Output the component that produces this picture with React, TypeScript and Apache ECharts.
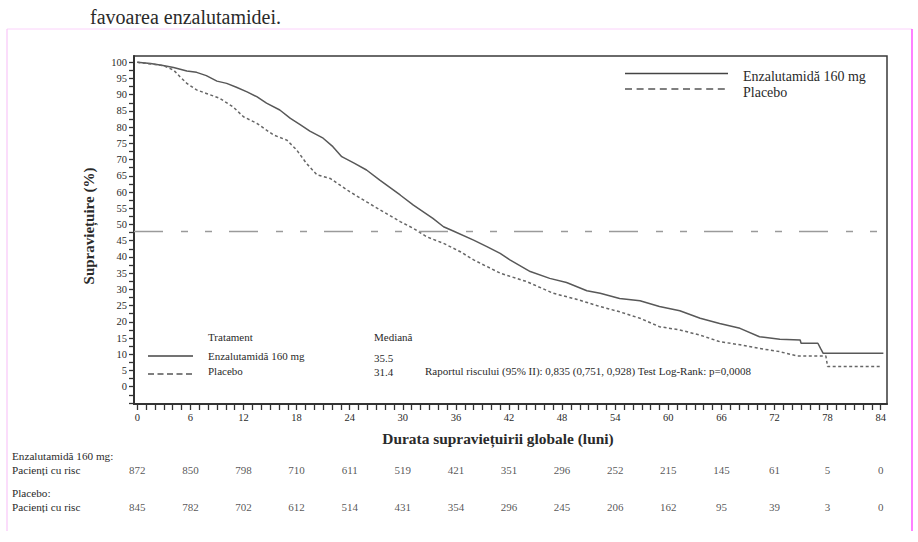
import React, { useEffect, useRef } from "react";
import * as echarts from "echarts";

// ---- data ----
const enzMonths = [0, 1.5, 2.9, 4.1, 5.6, 6.7, 7.8, 9.0, 10.1, 11.2, 12.4, 13.5, 14.6, 16.1, 17.3, 18.4, 19.5, 21.0, 22.1, 23.1, 24.5, 25.9, 27.4, 29.7, 31.2, 33.4, 34.6, 35.7, 38.0, 39.5, 41.0, 42.1, 44.4, 46.6, 48.5, 50.8, 52.3, 54.5, 56.8, 59.0, 61.3, 63.6, 65.8, 68.1, 70.3, 72.6, 74.9, 75.0, 76.9, 77.2, 77.5, 84.3];
const enzSurvival = [100, 99.6, 99.0, 98.4, 97.3, 96.9, 95.9, 94.2, 93.5, 92.3, 90.9, 89.4, 87.4, 85.3, 82.7, 80.8, 78.8, 76.6, 74.0, 70.9, 68.9, 66.8, 63.7, 59.1, 56.0, 51.9, 49.3, 48.0, 45.2, 43.2, 41.1, 39.1, 35.5, 33.4, 32.1, 29.6, 28.8, 27.2, 26.5, 24.7, 23.4, 21.1, 19.5, 18.0, 15.4, 14.6, 14.4, 13.4, 13.4, 11.8, 10.3, 10.3];

const placeboMonths = [0, 2.9, 4.1, 4.8, 5.6, 6.7, 7.8, 9.3, 10.8, 12.0, 13.5, 14.6, 15.4, 16.9, 18.0, 19.1, 20.3, 21.8, 24.0, 25.9, 27.8, 29.7, 31.2, 32.7, 34.6, 36.5, 38.0, 41.0, 44.0, 47.0, 49.7, 52.3, 54.5, 56.8, 59.0, 61.3, 63.6, 65.8, 68.1, 70.3, 72.6, 74.5, 77.8, 78.0, 83.9];
const placeboSurvival = [100, 99.0, 97.6, 95.6, 93.5, 91.5, 90.4, 88.9, 86.3, 83.2, 81.2, 79.1, 77.6, 76.0, 73.0, 68.9, 65.3, 64.2, 60.1, 57.0, 53.9, 50.9, 48.8, 46.2, 44.2, 41.6, 39.1, 35.0, 32.4, 28.8, 26.9, 24.7, 23.1, 21.1, 18.5, 17.5, 15.9, 13.9, 12.9, 11.8, 10.8, 9.5, 9.5, 6.2, 6.2];

const medianLineValue = 48;

const riskMonths = [0, 6, 12, 18, 24, 30, 36, 42, 48, 54, 60, 66, 72, 78, 84];
const enzAtRisk = [872, 850, 798, 710, 611, 519, 421, 351, 296, 252, 215, 145, 61, 5, 0];
const placeboAtRisk = [845, 782, 702, 612, 514, 431, 354, 296, 245, 206, 162, 95, 39, 3, 0];

const xLabelValues = [0, 6, 12, 18, 24, 30, 36, 42, 48, 54, 60, 66, 72, 78, 84];
const xTickValues = [0, 1, 2, 3, 4, 5, 6, 7, 8, 9, 10, 11, 12, 13, 14, 15, 16, 17, 18, 19, 20, 21, 22, 23, 24, 25, 26, 27, 28, 29, 30, 31, 32, 33, 34, 35, 36, 37, 38, 39, 40, 41, 42, 43, 44, 45, 46, 47, 48, 49, 50, 51, 52, 53, 54, 55, 56, 57, 58, 59, 60, 61, 62, 63, 64, 65, 66, 67, 68, 69, 70, 71, 72, 73, 74, 75, 76, 77, 78, 79, 80, 81, 82, 83, 84];
const yLabelValues = [0, 5, 10, 15, 20, 25, 30, 35, 40, 45, 50, 55, 60, 65, 70, 75, 80, 85, 90, 95, 100];
const yTickValues = [-5, -2.5, 0, 2.5, 5, 7.5, 10, 12.5, 15, 17.5, 20, 22.5, 25, 27.5, 30, 32.5, 35, 37.5, 40, 42.5, 45, 47.5, 50, 52.5, 55, 57.5, 60, 62.5, 65, 67.5, 70, 72.5, 75, 77.5, 80, 82.5, 85, 87.5, 90, 92.5, 95, 97.5, 100];

const FONT = "'Liberation Serif', 'DejaVu Serif', serif";
const INK = "#2a2a2a";

function zip(a: number[], b: number[]) {
  return a.map((v, i) => [v, b[i]]);
}

export default function App() {
  const ref = useRef<HTMLDivElement>(null);

  useEffect(() => {
    if (!ref.current) return;
    const chart = echarts.init(ref.current, undefined, { renderer: "svg" });

    const txt = (x: number, y: number, text: string, size: number, extra: any = {}) => ({
      type: "text",
      x,
      y,
      silent: true,
      style: {
        text,
        fill: INK,
        fontFamily: FONT,
        fontSize: size,
        textAlign: "left",
        textVerticalAlign: "middle",
        ...extra,
      },
    });
    const ln = (x1: number, y1: number, x2: number, y2: number, stroke: string, lineWidth: number, lineDash?: number[]) => ({
      type: "line",
      silent: true,
      shape: { x1, y1, x2, y2 },
      style: { stroke, lineWidth, lineDash },
    });

    const xMin = -0.373;
    const xMax = 84.71;

    chart.setOption({
      animation: false,
      backgroundColor: "#ffffff",
      textStyle: { fontFamily: FONT, color: INK },
      grid: [
        { left: 134, right: 31, top: 56, bottom: 138, show: true, borderColor: "#3a3a3a", borderWidth: 1.5, backgroundColor: "transparent" },
        { left: 134, right: 31, top: 470, height: 37, show: false },
      ],
      xAxis: [
        {
          type: "value",
          gridIndex: 0,
          min: xMin,
          max: xMax,
          splitLine: { show: false },
          axisLine: { show: true, onZero: false, lineStyle: { color: "#333", width: 2 } },
          axisTick: { show: true, inside: false, length: 6, customValues: xTickValues, lineStyle: { color: "#333", width: 1.3 } },
          axisLabel: { show: true, customValues: xLabelValues, margin: 8, fontSize: 10.5, color: INK, fontFamily: FONT },
        },
        {
          type: "value",
          gridIndex: 1,
          min: xMin,
          max: xMax,
          show: false,
        },
      ],
      yAxis: [
        {
          type: "value",
          gridIndex: 0,
          min: -5.33,
          max: 101.94,
          splitLine: { show: false },
          axisLine: { show: true, onZero: false, lineStyle: { color: "#333", width: 2 } },
          axisTick: { show: true, inside: false, length: 5, customValues: yTickValues, lineStyle: { color: "#333", width: 1.3 } },
          axisLabel: { show: true, customValues: yLabelValues, margin: 7, fontSize: 10.5, color: INK, fontFamily: FONT },
        },
        {
          type: "value",
          gridIndex: 1,
          min: 0,
          max: 1,
          show: false,
        },
      ],
      series: [
        {
          name: "Enzalutamidă 160 mg",
          type: "line",
          xAxisIndex: 0,
          yAxisIndex: 0,
          data: zip(enzMonths, enzSurvival),
          symbol: "none",
          lineStyle: { color: "#585858", width: 1.5 },
          z: 3,
          markLine: {
            silent: true,
            symbol: "none",
            label: { show: false },
            lineStyle: { color: "#9a9a9a", width: 1.3, type: [29, 18, 7, 17, 7, 17] },
            data: [{ yAxis: medianLineValue }],
          },
        },
        {
          name: "Placebo",
          type: "line",
          xAxisIndex: 0,
          yAxisIndex: 0,
          data: zip(placeboMonths, placeboSurvival),
          symbol: "none",
          lineStyle: { color: "#666", width: 1.5, type: [3, 2.5] },
          z: 3,
        },
        {
          type: "scatter",
          xAxisIndex: 1,
          yAxisIndex: 1,
          symbolSize: 1,
          itemStyle: { color: "transparent" },
          data: riskMonths.map((m, i) => [m, 1, enzAtRisk[i]]),
          label: {
            show: true,
            position: "inside",
            formatter: (p: any) => String(p.value[2]),
            color: INK,
            fontSize: 11,
            fontFamily: FONT,
          },
        },
        {
          type: "scatter",
          xAxisIndex: 1,
          yAxisIndex: 1,
          symbolSize: 1,
          itemStyle: { color: "transparent" },
          data: riskMonths.map((m, i) => [m, 0, placeboAtRisk[i]]),
          label: {
            show: true,
            position: "inside",
            formatter: (p: any) => String(p.value[2]),
            color: INK,
            fontSize: 11,
            fontFamily: FONT,
          },
        },
      ],
      graphic: [
        // page frame
        ln(7, 29, 912, 29, "#fbd2fb", 1),
        ln(7, 29, 7, 531, "#f8c6f8", 1.2),
        ln(912, 29, 912, 531, "#ff2cff", 1.2),
        // page text
        txt(90, 17, "favoarea enzalutamidei.", 20),
        // axis titles
        {
          type: "text",
          x: 89,
          y: 226,
          rotation: Math.PI / 2,
          silent: true,
          style: {
            text: "Supraviețuire (%)",
            fill: INK,
            fontFamily: FONT,
            fontSize: 15,
            fontWeight: "bold",
            textAlign: "center",
            textVerticalAlign: "middle",
          },
        },
        txt(498, 438, "Durata supraviețuirii globale (luni)", 15.4, { fontWeight: "bold", textAlign: "center" }),
        // top-right legend
        ln(625, 73.5, 728, 73.5, "#444", 1.6),
        ln(625, 89, 728, 89, "#555", 1.6, [7, 4.6]),
        txt(743, 76, "Enzalutamidă 160 mg", 14),
        txt(743, 92, "Placebo", 14),
        // inner median table
        txt(208, 337, "Tratament", 11),
        txt(374, 337, "Mediană", 11),
        ln(148, 356, 193, 356, "#444", 1.6),
        ln(148, 374, 193, 374, "#555", 1.6, [6, 3.5]),
        txt(208, 356, "Enzalutamidă 160 mg", 11),
        txt(208, 371, "Placebo", 11),
        txt(374, 358, "35.5", 11),
        txt(374, 372, "31.4", 11),
        txt(425, 371, "Raportul riscului (95% II): 0,835 (0,751, 0,928) Test Log-Rank: p=0,0008", 11),
        // risk table labels
        txt(12, 456, "Enzalutamidă 160 mg:", 11.2),
        txt(12, 470, "Pacienți cu risc", 11.2),
        txt(12, 493, "Placebo:", 11.2),
        txt(12, 507, "Pacienți cu risc", 11.2),
      ],
    });

    return () => chart.dispose();
  }, []);

  return (
    <div
      ref={ref}
      style={{ position: "fixed", left: 0, top: 0, width: 918, height: 542, background: "#fff" }}
    />
  );
}
